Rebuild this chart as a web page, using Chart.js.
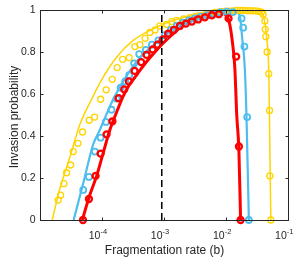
<!DOCTYPE html>
<html>
<head>
<meta charset="utf-8">
<script src="https://cdn.jsdelivr.net/npm/chart.js@4.4.1/dist/chart.umd.min.js"></script>
<style>
  html, body { margin: 0; padding: 0; background: #ffffff; }
  #chart { display: block; }
</style>
</head>
<body>
<canvas id="chart" width="307" height="262"></canvas>
<script>
// tick marks / labels
const xTickVals = [1e-4, 1e-3, 1e-2, 1e-1];
const xTickExps = ["-4", "-3", "-2", "-1"];
const yTickVals = [0, 0.2, 0.4, 0.6, 0.8, 1];
const yTickLabels = ["0", "0.2", "0.4", "0.6", "0.8", "1"];

// threshold marked by the dashed line
const dashB = 9.3e-4;

// simulations (circles): log10(b) and invasion probability
const redSimLogB = [-4.30, -4.204, -4.097, -4.016, -3.92, -3.826, -3.726, -3.636, -3.561, -3.469, -3.363, -3.276, -3.179, -3.10, -3.014, -2.929, -2.837, -2.74, -2.644, -2.547, -2.446, -2.338, -2.225, -2.113, -1.957, -1.834, -1.79, -1.763];
const redSimP = [0, 0.10, 0.21, 0.316, 0.408, 0.47, 0.58, 0.622, 0.66, 0.71, 0.752, 0.786, 0.812, 0.835, 0.86, 0.887, 0.905, 0.924, 0.935, 0.945, 0.955, 0.965, 0.975, 0.98, 0.96, 0.778, 0.35, 0];

const blueSimLogB = [-4.296, -4.204, -4.108, -4.016, -3.931, -3.84, -3.758, -3.694, -3.62, -3.556, -3.476, -3.395, -3.287, -3.19, -3.086, -2.982, -2.885, -2.788, -2.692, -2.595, -2.499, -2.402, -2.298, -2.193, -2.089, -1.984, -1.887, -1.747, -1.722, -1.702, -1.657, -1.63];
const blueSimP = [0.143, 0.205, 0.326, 0.392, 0.467, 0.525, 0.578, 0.63, 0.66, 0.69, 0.746, 0.79, 0.81, 0.835, 0.855, 0.88, 0.905, 0.925, 0.94, 0.95, 0.96, 0.968, 0.975, 0.982, 0.988, 0.992, 0.99, 0.96, 0.916, 0.826, 0.49, 0];

const yellowSimLogB = [-4.698, -4.66, -4.607, -4.563, -4.499, -4.457, -4.381, -4.306, -4.2, -4.113, -4.016, -3.926, -3.829, -3.749, -3.662, -3.556, -3.464, -3.384, -3.3, -3.223, -3.14, -3.062, -2.954, -2.87, -2.793, -2.68, -2.579, -2.5, -2.446, -2.37, -2.31, -2.24, -2.177, -2.12, -2.069, -2.0, -1.936, -1.88, -1.828, -1.77, -1.722, -1.67, -1.614, -1.56, -1.517, -1.47, -1.426, -1.40, -1.372, -1.366, -1.357, -1.336, -1.31, -1.297, -1.292, -1.276];
const yellowSimP = [0.095, 0.118, 0.173, 0.225, 0.262, 0.326, 0.365, 0.419, 0.475, 0.49, 0.575, 0.62, 0.67, 0.726, 0.765, 0.773, 0.826, 0.835, 0.865, 0.893, 0.905, 0.924, 0.932, 0.945, 0.951, 0.958, 0.964, 0.968, 0.972, 0.976, 0.98, 0.984, 0.988, 0.99, 0.993, 0.994, 0.995, 0.996, 0.998, 0.998, 0.998, 0.997, 0.997, 0.996, 0.996, 0.993, 0.99, 0.98, 0.948, 0.908, 0.873, 0.8, 0.697, 0.522, 0.21, 0];

// theory curves (lines)
const redFitLogB = [-4.31, -4.2, -4.08, -3.974, -3.866, -3.75, -3.652, -3.55, -3.437, -3.3, -3.17, -3.0, -2.8, -2.6, -2.4, -2.25, -2.15, -2.05, -1.957, -1.88, -1.855, -1.825, -1.79, -1.763];
const redFitP = [0, 0.11, 0.21, 0.32, 0.43, 0.52, 0.59, 0.645, 0.69, 0.745, 0.79, 0.845, 0.9, 0.945, 0.975, 0.99, 0.995, 0.985, 0.955, 0.81, 0.72, 0.5, 0.33, 0];

const blueFitLogB = [-4.45, -4.3, -4.135, -4.027, -3.813, -3.598, -3.384, -3.115, -2.9, -2.7, -2.5, -2.3, -2.1, -1.95, -1.83, -1.774, -1.738, -1.694, -1.667, -1.63];
const blueFitP = [0, 0.17, 0.36, 0.43, 0.575, 0.686, 0.773, 0.845, 0.9, 0.94, 0.97, 0.985, 0.995, 0.997, 0.99, 0.97, 0.868, 0.717, 0.48, 0];

const yellowFitLogB = [-4.795, -4.671, -4.51, -4.35, -4.161, -3.974, -3.759, -3.492, -3.17, -2.9, -2.6, -2.3, -2.0, -1.7, -1.5, -1.43, -1.389, -1.34, -1.308, -1.292, -1.276];
const yellowFitP = [0, 0.15, 0.3, 0.455, 0.575, 0.68, 0.775, 0.855, 0.91, 0.945, 0.97, 0.985, 0.993, 0.997, 0.995, 0.99, 0.965, 0.86, 0.694, 0.337, 0];

const RED = "#FF0000";
const BLUE = "#4DBEEE";
const YELLOW = "#FFD400";
const INK = "#262626";
const FONT = '"Liberation Sans", Arial, sans-serif';

function toPoints(logB, p) {
  return logB.map((v, i) => ({ x: Math.pow(10, v), y: p[i] }));
}

function fitSet(logB, p, color, width) {
  return {
    data: toPoints(logB, p),
    showLine: true,
    borderColor: color,
    borderWidth: width,
    pointRadius: 0,
    cubicInterpolationMode: "monotone",
    order: 10,
  };
}

function simSet(logB, p, color, width) {
  return {
    data: toPoints(logB, p),
    showLine: false,
    borderColor: color,
    backgroundColor: "transparent",
    pointBorderWidth: width,
    pointRadius: 3,
    pointStyle: "circle",
    clip: false,
    order: 5,
  };
}

// MATLAB style box, inward ticks and tick labels
const matlabAxes = {
  id: "matlabAxes",
  afterDraw(chart) {
    const ctx = chart.ctx;
    const xs = chart.scales.x;
    const ys = chart.scales.y;
    const { left, right, top, bottom } = chart.chartArea;
    const L = Math.round(left) + 0.5;
    const R = Math.round(right) + 0.5;
    const T = Math.round(top) + 0.5;
    const B = Math.round(bottom) + 0.5;
    ctx.save();
    ctx.strokeStyle = INK;
    ctx.lineWidth = 1;
    ctx.strokeRect(L, T, R - L, B - T);
    ctx.beginPath();
    xTickVals.forEach((v) => {
      const px = Math.round(xs.getPixelForValue(v)) + 0.5;
      ctx.moveTo(px, B); ctx.lineTo(px, B - 3);
      ctx.moveTo(px, T); ctx.lineTo(px, T + 3);
    });
    yTickVals.forEach((v) => {
      const py = Math.round(ys.getPixelForValue(v)) + 0.5;
      ctx.moveTo(L, py); ctx.lineTo(L + 3, py);
      ctx.moveTo(R, py); ctx.lineTo(R - 3, py);
    });
    ctx.stroke();

    ctx.fillStyle = INK;
    ctx.font = "10.5px " + FONT;
    ctx.textAlign = "right";
    ctx.textBaseline = "middle";
    yTickVals.forEach((v, i) => {
      ctx.fillText(yTickLabels[i], L - 5, ys.getPixelForValue(v) + 0.5);
    });

    ctx.textBaseline = "alphabetic";
    xTickVals.forEach((v, i) => {
      const px = xs.getPixelForValue(v) - 1.2;
      ctx.font = "10.5px " + FONT;
      ctx.textAlign = "right";
      ctx.fillText("10", px, 238.5);
      ctx.font = "7.5px " + FONT;
      ctx.textAlign = "left";
      ctx.fillText(xTickExps[i], px, 233.5);
    });

    ctx.font = "12px " + FONT;
    ctx.textAlign = "center";
    ctx.fillText("Fragmentation rate (b)", (L + R) / 2, 253.5);
    ctx.translate(17.5, (T + B) / 2 + 1.5);
    ctx.rotate(-Math.PI / 2);
    ctx.fillText("Invasion probability", 0, 0);
    ctx.restore();
  },
};

const chart = new Chart(document.getElementById("chart"), {
  type: "scatter",
  data: {
    datasets: [
      fitSet(redFitLogB, redFitP, RED, 3),
      fitSet(blueFitLogB, blueFitP, BLUE, 2.2),
      fitSet(yellowFitLogB, yellowFitP, YELLOW, 1.5),
      simSet(redSimLogB, redSimP, RED, 2.3),
      simSet(blueSimLogB, blueSimP, BLUE, 1.8),
      simSet(yellowSimLogB, yellowSimP, YELLOW, 1.3),
      {
        data: [{ x: dashB, y: 0 }, { x: dashB, y: 1 }],
        showLine: true,
        borderColor: "#000000",
        borderWidth: 1.5,
        borderDash: [7, 4],
        pointRadius: 0,
        order: 1,
      },
    ],
  },
  options: {
    responsive: false,
    animation: false,
    devicePixelRatio: 1,
    layout: { padding: { top: 10, right: 19, left: 0, bottom: 0 } },
    plugins: {
      legend: { display: false },
      tooltip: { enabled: false },
    },
    scales: {
      x: {
        type: "logarithmic",
        min: 1.02e-5,
        max: 0.1,
        grid: { display: false },
        border: { display: false },
        ticks: { display: false },
        afterFit: (s) => { s.height = 42; },
      },
      y: {
        min: 0,
        max: 1,
        grid: { display: false },
        border: { display: false },
        ticks: { display: false },
        afterFit: (s) => { s.width = 40; },
      },
    },
  },
  plugins: [matlabAxes],
});
</script>
</body>
</html>
